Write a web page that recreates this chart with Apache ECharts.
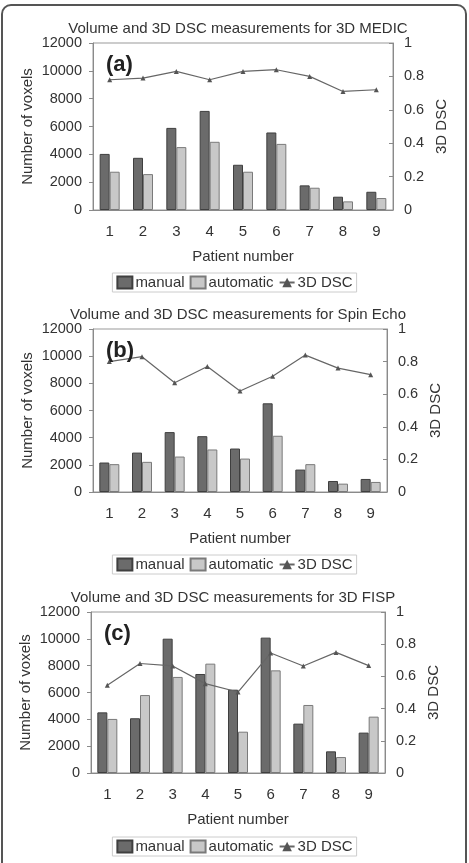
<!DOCTYPE html>
<html>
<head>
<meta charset="utf-8">
<script src="https://cdn.jsdelivr.net/npm/echarts@6/dist/echarts.min.js"></script>
<style>
  html, body { margin: 0; padding: 0; background: #fff; }
  #chart { width: 469px; height: 863px; }
  .frame {
    position: absolute; left: 1px; top: 4px; width: 462px; height: 880px;
    border: 2px solid #555; border-radius: 10px; pointer-events: none;
  }
</style>
</head>
<body>
<div id="chart"></div>
<div class="frame"></div>
<script>
const patients = ['1', '2', '3', '4', '5', '6', '7', '8', '9']

const medicManual = [4030, 3750, 5900, 7120, 3250, 5570, 1770, 955, 1310]
const medicAuto = [2750, 2580, 4520, 4900, 2750, 4750, 1600, 620, 860]
const medicDsc = [0.78, 0.79, 0.83, 0.78, 0.83, 0.84, 0.80, 0.71, 0.72]

const spinManual = [2170, 2900, 4410, 4110, 3200, 6530, 1650, 810, 960]
const spinAuto = [2050, 2220, 2610, 3130, 2460, 4140, 2050, 615, 740]
const spinDsc = [0.80, 0.83, 0.67, 0.77, 0.62, 0.71, 0.84, 0.76, 0.72]

const fispManual = [4520, 4080, 10010, 7380, 6210, 10090, 3680, 1615, 3010]
const fispAuto = [4030, 5810, 7160, 8150, 3080, 7650, 5070, 1190, 4200]
const fispDsc = [0.545, 0.68, 0.665, 0.555, 0.503, 0.745, 0.665, 0.749, 0.667]

const panels = [
  { title: 'Volume and 3D DSC measurements for 3D MEDIC', tag: '(a)', manual: medicManual, auto: medicAuto, dsc: medicDsc,
    top: 43, height: 167, left: 93, right: 76, titleTop: 16, titleX: 233, legendTop: 273 },
  { title: 'Volume and 3D DSC measurements for Spin Echo', tag: '(b)', manual: spinManual, auto: spinAuto, dsc: spinDsc,
    top: 329, height: 163, left: 93, right: 82, titleTop: 302, titleX: 233, legendTop: 555 },
  { title: 'Volume and 3D DSC measurements for 3D FISP', tag: '(c)', manual: fispManual, auto: fispAuto, dsc: fispDsc,
    top: 612, height: 161, left: 91, right: 84, titleTop: 585, titleX: 228, legendTop: 837 }
]

const font = '"Liberation Sans", Arial, sans-serif'
const txt = '#333'
const axisGray = '#8a8a8a'

const title = []
const grid = []
const xAxis = []
const yAxis = []
const legend = []
const series = []

panels.forEach((p, i) => {
  title.push({
    text: p.title, left: p.titleX, top: p.titleTop, textAlign: 'center',
    textStyle: { fontFamily: font, fontSize: 15, fontWeight: 'normal', color: txt }
  })
  title.push({
    text: p.tag, left: p.left + 8, top: p.top + 6,
    textStyle: { fontFamily: font, fontSize: 22, fontWeight: 'bold', color: '#222' }
  })
  grid.push({
    left: p.left, right: p.right, top: p.top, height: p.height,
    show: true, borderColor: '#999', borderWidth: 1
  })
  xAxis.push({
    type: 'category', gridIndex: i, data: patients,
    name: 'Patient number', nameLocation: 'middle', nameGap: 39, nameMoveOverlap: false,
    nameTextStyle: { fontFamily: font, fontSize: 15, color: txt },
    axisLine: { lineStyle: { color: axisGray } },
    axisTick: { length: 4, lineStyle: { color: axisGray } },
    axisLabel: { fontFamily: font, fontSize: 15, color: txt, margin: 14 }
  })
  yAxis.push({
    type: 'value', gridIndex: i, min: 0, max: 12000, interval: 2000,
    name: 'Number of voxels', nameLocation: 'middle', nameGap: 58, nameRotate: 90, nameMoveOverlap: false,
    nameTextStyle: { fontFamily: font, fontSize: 15, color: txt },
    axisLine: { show: true, lineStyle: { color: axisGray } },
    axisTick: { show: true, length: 4, lineStyle: { color: axisGray } },
    axisLabel: { fontFamily: font, fontSize: 14.5, color: txt, margin: 11, formatter: v => String(v) },
    splitLine: { show: false }
  })
  yAxis.push({
    type: 'value', gridIndex: i, position: 'right', min: 0, max: 1, interval: 0.2,
    name: '3D DSC', nameLocation: 'middle', nameGap: 41, nameRotate: 90, nameMoveOverlap: false,
    nameTextStyle: { fontFamily: font, fontSize: 15, color: txt },
    axisLine: { show: true, lineStyle: { color: axisGray } },
    axisTick: { show: true, inside: true, length: 4, lineStyle: { color: axisGray } },
    axisLabel: { fontFamily: font, fontSize: 14.5, color: txt, margin: 11 },
    splitLine: { show: false }
  })
  legend.push({
    top: p.legendTop, left: 'center',
    data: [
      { name: 'manual', icon: 'rect' },
      { name: 'automatic', icon: 'rect' },
      { name: '3D DSC' }
    ],
    itemWidth: 15, itemHeight: 12, itemGap: 5,
    borderColor: '#ccc', borderWidth: 1, padding: [2, 4],
    textStyle: { fontFamily: font, fontSize: 15, color: txt, padding: [0, 0, 0, -2] }
  })
  series.push({
    name: 'manual', type: 'bar', xAxisIndex: i, yAxisIndex: 2 * i,
    data: p.manual, barWidth: 10, barGap: '0%',
    itemStyle: { color: '#6b6b6b', borderColor: '#3f3f3f', borderWidth: 1 }
  })
  series.push({
    name: 'automatic', type: 'bar', xAxisIndex: i, yAxisIndex: 2 * i,
    data: p.auto, barWidth: 10, barGap: '0%',
    itemStyle: { color: '#c8c8c8', borderColor: '#7a7a7a', borderWidth: 1 }
  })
  series.push({
    name: '3D DSC', type: 'line', xAxisIndex: i, yAxisIndex: 2 * i + 1,
    data: p.dsc, symbol: 'triangle', symbolSize: 5,
    lineStyle: { color: '#666', width: 1.2 },
    itemStyle: { color: '#555' }
  })
})

const chart = echarts.init(document.getElementById('chart'))
chart.setOption({
  animation: false,
  backgroundColor: '#fff',
  title, grid, xAxis, yAxis, legend, series
})
</script>
</body>
</html>
